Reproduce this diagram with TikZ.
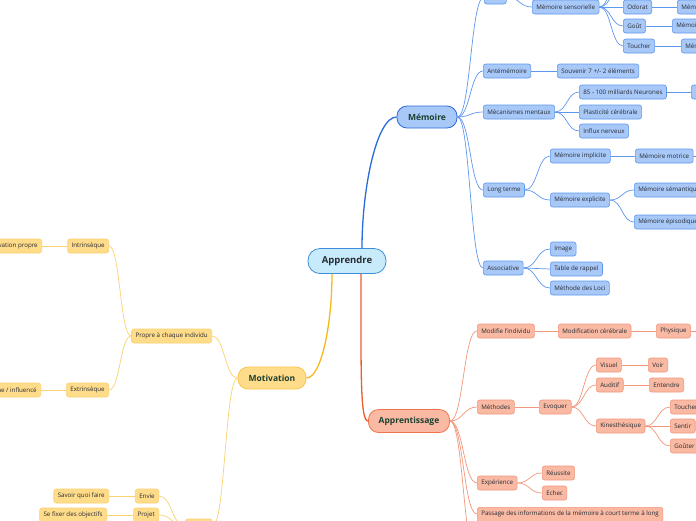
\documentclass[tikz,border=0pt]{standalone}
\usepackage{fontspec}
\setmainfont{Open Sans}
\usetikzlibrary{calc}
\definecolor{memfill}{HTML}{A8C8F8}
\definecolor{memline}{HTML}{5E97EE}
\definecolor{memdark}{HTML}{2A6BDA}
\definecolor{appfill}{HTML}{F9B9A3}
\definecolor{appline}{HTML}{F3977C}
\definecolor{appdark}{HTML}{EE5B2E}
\definecolor{motfill}{HTML}{FFDC8A}
\definecolor{motline}{HTML}{FCD272}
\definecolor{motdark}{HTML}{F7B81A}
\definecolor{rootfill}{HTML}{C8EBFB}
\definecolor{rootline}{HTML}{3B8FD8}
\definecolor{textdark}{HTML}{262B33}
\definecolor{maintext}{HTML}{1D4030}

\begin{document}
\begin{tikzpicture}[x=1pt,y=-1pt,
  box/.style={rounded corners=2.5pt,inner xsep=4pt,inner ysep=0pt,minimum height=14pt,font=\fontsize{6.2}{8}\selectfont,text=textdark,line width=0.6pt},
  mem/.style={box,fill=memfill,draw=memline,anchor=west},
  app/.style={box,fill=appfill,draw=appline,anchor=west},
  mot/.style={box,fill=motfill,draw=motline,anchor=east},
  big/.style={rounded corners=10pt,minimum height=22pt,line width=0.8pt,font=\fontsize{8.5}{10}\selectfont\bfseries,text=maintext},
  link/.style={to path={let \p1=(\tikztostart),\p2=(\tikztotarget) in .. controls ({(\x1+\x2)/2},\y1) and ({(\x1+\x2)/2},\y2) .. (\tikztotarget)}},
]
\useasboundingbox (0,0) rectangle (696,520);
\fill[white] (0,0) rectangle (696,520);
\clip (0,0) rectangle (696,520);

\node[big,fill=rootfill,draw=rootline,text=textdark,minimum width=78pt,minimum height=25pt,rounded corners=12pt,font=\fontsize{9.5}{11}\selectfont\bfseries] (root) at (347,261) {Apprendre};
\node[big,fill=memfill,draw=memdark,minimum width=60pt] (mem) at (427,117) {Mémoire};
\node[big,fill=motfill,draw=motdark!80,minimum width=68pt] (motiv) at (272,378) {Motivation};
\node[big,fill=appfill,draw=appdark!85,minimum width=81pt,minimum height=23pt] (appr) at (409,421) {Apprentissage};

\node[mem,minimum width=22pt] (court) at (484,-3) {};
\node[mem] (sens) at (532,7) {Mémoire sensorielle};
\coordinate (sensa) at (623,-14);
\coordinate (sensb) at (623,-34);
\node[mem] (odorat) at (623,7) {Odorat};
\node[mem] (gout) at (623,26) {Goût};
\node[mem] (touch) at (623,46) {Toucher};
\node[mem] (olf) at (677,7) {Mémoire olfactive};
\node[mem] (gus) at (672,26) {Mémoire gustative};
\node[mem] (tac) at (681,46) {Mémoire tactile};
\node[mem] (ante) at (483,71) {Antémémoire};
\node[mem] (souv) at (557,71) {Souvenir 7 +/- 2 éléments};
\node[mem] (meca) at (483,112) {Mécanismes mentaux};
\node[mem] (neur) at (579,92) {85 - 100 milliards Neurones};
\node[mem,minimum width=30pt] (neurx) at (691,92) {};
\node[mem] (plast) at (579,112) {Plasticité cérébrale};
\node[mem] (influx) at (579,131) {Influx nerveux};
\node[mem] (long) at (483,190) {Long terme};
\node[mem] (impl) at (550,156) {Mémoire implicite};
\node[mem] (motr) at (635,156) {Mémoire motrice};
\coordinate (motrx) at (720,156);
\node[mem] (expl) at (550,200) {Mémoire explicite};
\node[mem] (sema) at (634,190) {Mémoire sémantique};
\node[mem] (epis) at (634,222) {Mémoire épisodique};
\node[mem] (assoc) at (483,268) {Associative};
\node[mem] (image) at (550,249) {Image};
\node[mem] (table) at (550,269) {Table de rappel};
\node[mem] (loci) at (550,288) {Méthode des Loci};

\node[app] (modif) at (477,331) {Modifie l'individu};
\node[app] (cereb) at (558,331) {Modification cérébrale};
\node[app] (phys) at (656,331) {Physique};
\coordinate (physx) at (720,331);
\node[app] (meth) at (477,407) {Méthodes};
\node[app] (evoq) at (539,407) {Evoquer};
\node[app] (visu) at (596,365) {Visuel};
\node[app] (voir) at (648,365) {Voir};
\node[app] (audi) at (596,385) {Auditif};
\node[app] (ente) at (649,385) {Entendre};
\node[app] (kine) at (596,426) {Kinesthésique};
\node[app] (touc) at (670,407) {Toucher};
\node[app] (sent) at (670,426) {Sentir};
\node[app] (gouter) at (670,446) {Goûter};
\node[app] (expe) at (477,483) {Expérience};
\node[app] (reus) at (542,473) {Réussite};
\node[app] (echec) at (542,493) {Echec};
\node[app,anchor=north west,align=left,inner ysep=3pt] (passage) at (477,507) {Passage des informations de la mémoire à court terme à long\\[4pt]terme};
\coordinate (apprx) at (477,560);

\node[mot] (propre) at (212,336) {Propre à chaque individu};
\node[mot] (intr) at (109,246) {Intrinsèque};
\node[mot] (mpropre) at (42,246) {Motivation propre};
\node[mot] (extr) at (109,390) {Extrinsèque};
\node[mot] (mext) at (41,390) {Motivation externe / influencé};
\node[mot,anchor=west,minimum width=27pt] (besoin) at (185,526) {};
\node[mot] (envie) at (159,496) {Envie};
\node[mot] (savoir) at (109,496) {Savoir quoi faire};
\node[mot] (projet) at (159,515) {Projet};
\node[mot] (fixer) at (107,515) {Se fixer des objectifs};

\draw[memdark,line width=1.3pt] ([xshift=15pt]root.north) .. controls +(0,-60) and +(-20,0) .. (mem.west);
\draw[motdark,line width=1.3pt] ([xshift=-15pt]root.south) .. controls +(0,50) and +(15,0) .. (motiv.east);
\draw[appdark,line width=1.3pt] ([xshift=14pt]root.south) .. controls +(0,100) and +(-8,0) .. (appr.west);

\foreach \a/\b in {mem/court,mem/ante,mem/meca,mem/long,mem/assoc,court/sens,sens/odorat,sens/gout,sens/touch,odorat/olf,gout/gus,touch/tac,ante/souv,meca/neur,meca/plast,meca/influx,neur/neurx,long/impl,long/expl,impl/motr,expl/sema,expl/epis,assoc/image,assoc/table,assoc/loci}
  \draw[memline,line width=0.7pt,link] (\a.east) to (\b.west);
\draw[memline,line width=0.7pt,link] (sens.east) to (sensa);
\draw[memline,line width=0.7pt,link] (sens.east) to (sensb);
\draw[memline,line width=0.7pt] (motr.east) -- (motrx);

\foreach \a/\b in {appr/modif,appr/meth,appr/expe,modif/cereb,cereb/phys,meth/evoq,evoq/visu,evoq/audi,evoq/kine,visu/voir,audi/ente,kine/touc,kine/sent,kine/gouter,expe/reus,expe/echec}
  \draw[appline,line width=0.7pt,link] (\a.east) to (\b.west);
\draw[appline,line width=0.7pt,link] (appr.east) to ([yshift=-7pt]passage.north west);
\draw[appline,line width=0.7pt,link] (appr.east) to (apprx);
\draw[appline,line width=0.7pt] (phys.east) -- (physx);

\foreach \a/\b in {motiv/propre,motiv/besoin,propre/intr,propre/extr,intr/mpropre,extr/mext,besoin/envie,besoin/projet,envie/savoir,projet/fixer}
  \draw[motline,line width=0.7pt,link] (\a.west) to (\b.east);
\end{tikzpicture}
\end{document}
